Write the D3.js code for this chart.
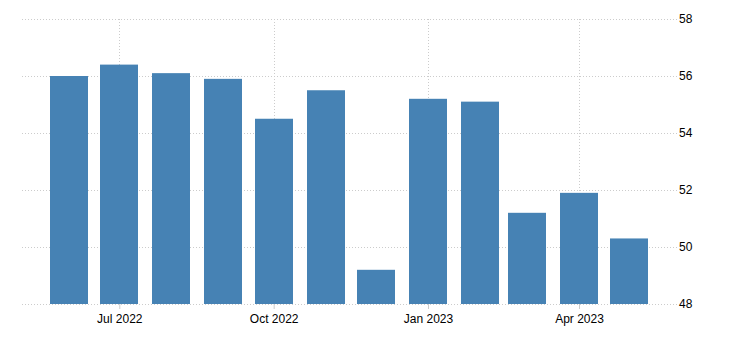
<!DOCTYPE html>
<html>
<head>
<meta charset="utf-8">
<script src="https://cdn.jsdelivr.net/npm/d3@7"></script>
<style>
  body { margin: 0; background: #fff; }
  text { font-family: "Liberation Sans", Arial, sans-serif; font-size: 12px; fill: #000; }
</style>
</head>
<body>
<div class="chart"></div>
<script>
// monthly values, Jun 2022 .. May 2023
var months = ['2022-06', '2022-07', '2022-08', '2022-09', '2022-10', '2022-11',
              '2022-12', '2023-01', '2023-02', '2023-03', '2023-04', '2023-05'];
var values = [56.0, 56.4, 56.1, 55.9, 54.5, 55.5, 49.2, 55.2, 55.1, 51.2, 51.9, 50.3];
var yTicks = [48, 50, 52, 54, 56, 58];
var xTicks = ['2022-07', '2022-10', '2023-01', '2023-04'];

var width = 730;
var height = 350;
var parse = d3.timeParse('%Y-%m');

var data = months.map(function (m, i) {
  return { date: parse(m), value: values[i] };
});

var svg = d3.select('.chart').append('svg')
    .attr('width', width)
    .attr('height', height);

var x = d3.scaleTime()
    .domain([new Date(2022, 4, 4), new Date(2023, 4, 30)])
    .range([22, 678]);

var y = d3.scaleLinear()
    .domain([48, 58])
    .range([304, 19]);

var barW = 38;

// horizontal grid
svg.selectAll('.hgrid')
    .data(yTicks)
  .enter().append('line')
    .attr('x1', 22).attr('x2', 678)
    .attr('y1', function (d) { return Math.round(y(d)) + 0.5; })
    .attr('y2', function (d) { return Math.round(y(d)) + 0.5; })
    .style('stroke', '#ccc')
    .style('stroke-dasharray', '1,2');

// vertical grid
svg.selectAll('.vgrid')
    .data(xTicks)
  .enter().append('line')
    .attr('x1', function (d) { return Math.round(x(parse(d))) + 0.5; })
    .attr('x2', function (d) { return Math.round(x(parse(d))) + 0.5; })
    .attr('y1', 19).attr('y2', 304)
    .style('stroke', '#ccc')
    .style('stroke-dasharray', '1,2');

// bars
svg.selectAll('.bar')
    .data(data)
  .enter().append('rect')
    .attr('class', 'bar')
    .attr('x', function (d) { return Math.round(x(d.date) - barW / 2); })
    .attr('width', barW)
    .attr('y', function (d) { return y(d.value); })
    .attr('height', function (d) { return y(48) - y(d.value); })
    .style('fill', '#4682b4');

// x axis ticks + labels
var xAxis = d3.axisBottom(x)
    .tickValues(xTicks.map(parse))
    .tickFormat(d3.timeFormat('%b %Y'))
    .tickSize(5)
    .tickPadding(5);

var gx = svg.append('g')
    .attr('transform', 'translate(0,304)')
    .call(xAxis);
gx.select('.domain').remove();
gx.selectAll('line').style('stroke', '#ccc');
gx.selectAll('text').style('font-size', '12px').style('fill', '#000');

// y axis labels on right
var yAxis = d3.axisRight(y)
    .tickValues(yTicks)
    .tickSize(0)
    .tickPadding(1);

var gy = svg.append('g')
    .attr('transform', 'translate(678,0)')
    .call(yAxis);
gy.select('.domain').remove();
gy.selectAll('text').style('font-size', '12px').style('fill', '#000');
</script>
</body>
</html>
